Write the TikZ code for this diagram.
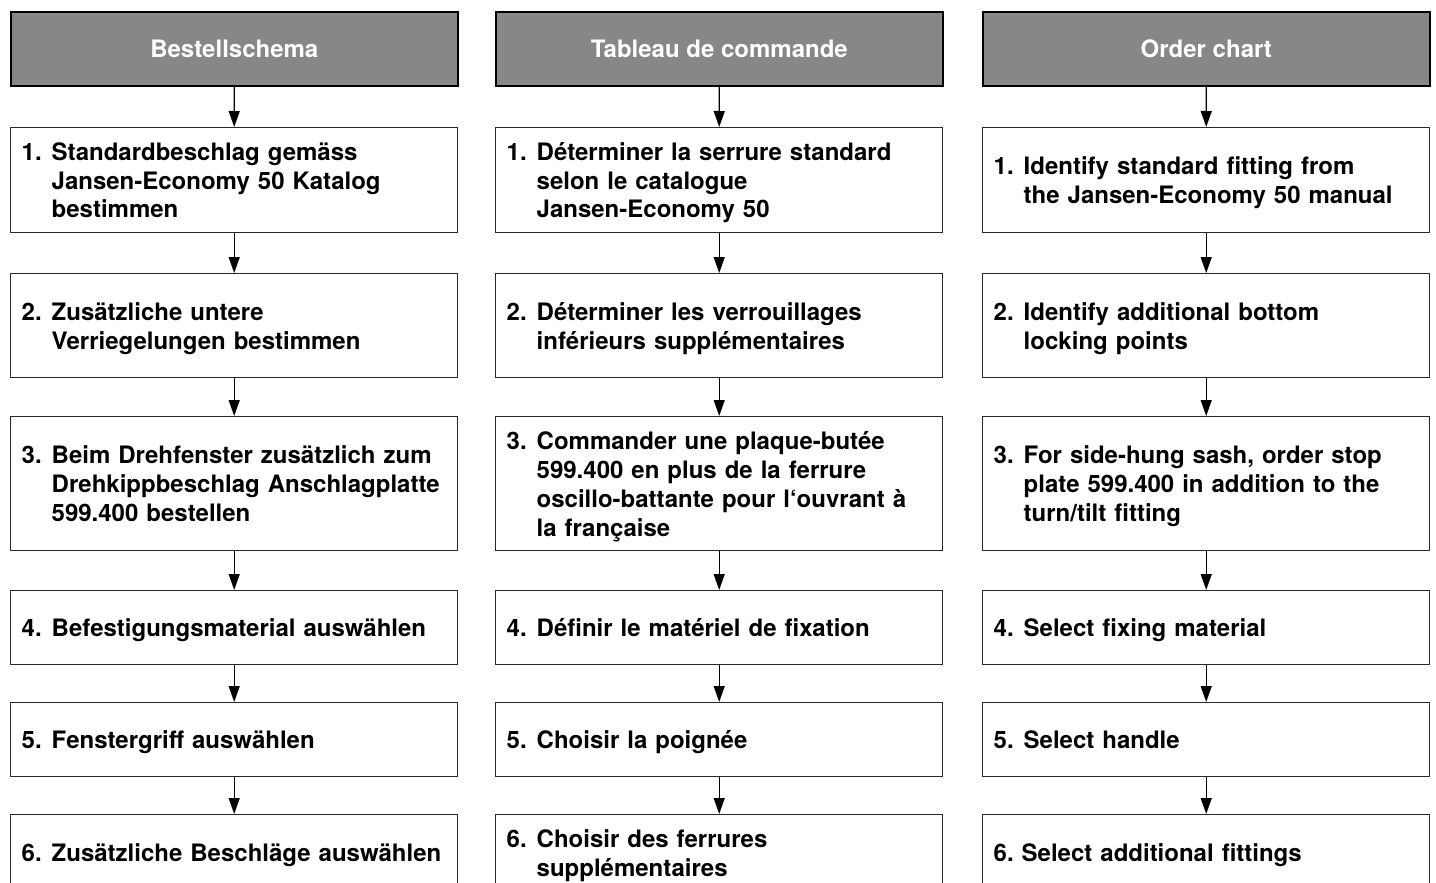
\documentclass[tikz,border=0pt]{standalone}
\usepackage{fontspec}
\setmainfont{TeX Gyre Heros}
\usetikzlibrary{arrows.meta}
\definecolor{headgray}{RGB}{135,135,135}
\definecolor{linegray}{RGB}{40,40,40}
\newcommand\mystrut{\rule[-5.7pt]{0pt}{29pt}}
\newcommand\stepitem[2]{\makebox[30pt][l]{\mystrut#1}\parbox[t]{393pt}{\raggedright\mystrut#2\mystrut}}
\tikzset{
  basefont/.style={font=\fontsize{24}{29}\selectfont\bfseries},
  headbox/.style={basefont, draw=black, line width=1.6pt, fill=headgray, text=white,
    minimum width=447pt, inner sep=0pt, anchor=north west, align=center},
  stepbox/.style={basefont, draw=linegray, line width=1.4pt, fill=white,
    text width=425pt, inner xsep=11pt, inner ysep=0pt, align=left, anchor=north west},
  arr/.style={draw=black, line width=1.3pt, -{Triangle[length=16pt,width=11pt]}}
}
\begin{document}
\begin{tikzpicture}[x=1pt,y=-1pt]
\useasboundingbox (0,0) rectangle (1436,883);
\clip (0,0) rectangle (1436,883);
% Column 1
\node[headbox, minimum height=74pt] (h1) at (10,11) {Bestellschema};
\node[stepbox, minimum height=105pt] (a1) at (10,127) {\stepitem{1.}{Standardbeschlag gemäss\\Jansen-Economy 50 Katalog\\bestimmen}};
\node[stepbox, minimum height=104pt] (a2) at (10,273) {\stepitem{2.}{Zusätzliche untere\\Verriegelungen bestimmen}};
\node[stepbox, minimum height=134pt] (a3) at (10,416) {\stepitem{3.}{Beim Drehfenster zusätzlich zum\\Drehkippbeschlag Anschlagplatte\\599.400 bestellen}};
\node[stepbox, minimum height=74pt] (a4) at (10,590) {\stepitem{4.}{Befestigungsmaterial auswählen}};
\node[stepbox, minimum height=74pt] (a5) at (10,702) {\stepitem{5.}{Fenstergriff auswählen}};
\node[stepbox, minimum height=76pt] (a6) at (10,814) {\stepitem{6.}{Zusätzliche Beschläge auswählen}};
% Column 2
\node[headbox, minimum height=74pt] (h2) at (495,11) {Tableau de commande};
\node[stepbox, minimum height=105pt] (b1) at (495,127) {\stepitem{1.}{Déterminer la serrure standard\\selon le catalogue\\Jansen-Economy 50}};
\node[stepbox, minimum height=104pt] (b2) at (495,273) {\stepitem{2.}{Déterminer les verrouillages\\inférieurs supplémentaires}};
\node[stepbox, minimum height=134pt] (b3) at (495,416) {\stepitem{3.}{Commander une plaque-butée\\599.400 en plus de la ferrure\\oscillo-battante pour l‘ouvrant à\\la française}};
\node[stepbox, minimum height=74pt] (b4) at (495,590) {\stepitem{4.}{Définir le matériel de fixation}};
\node[stepbox, minimum height=74pt] (b5) at (495,702) {\stepitem{5.}{Choisir la poignée}};
\node[stepbox, minimum height=76pt] (b6) at (495,814) {\stepitem{6.}{Choisir des ferrures\\supplémentaires}};
% Column 3
\node[headbox, minimum height=74pt] (h3) at (982,11) {Order chart};
\node[stepbox, minimum height=105pt] (c1) at (982,127) {\stepitem{1.}{Identify standard fitting from\\the Jansen-Economy 50 manual}};
\node[stepbox, minimum height=104pt] (c2) at (982,273) {\stepitem{2.}{Identify additional bottom\\locking points}};
\node[stepbox, minimum height=134pt] (c3) at (982,416) {\stepitem{3.}{For side-hung sash, order stop\\plate 599.400 in addition to the\\turn/tilt fitting}};
\node[stepbox, minimum height=74pt] (c4) at (982,590) {\stepitem{4.}{Select fixing material}};
\node[stepbox, minimum height=74pt] (c5) at (982,702) {\stepitem{5.}{Select handle}};
\node[stepbox, minimum height=76pt] (c6) at (982,814) {\mystrut 6.\ Select additional fittings\mystrut};
% Connectors
\foreach \c/\h in {a/h1,b/h2,c/h3}{
  \draw[arr] (\h.south) -- (\c1.north);
  \draw[arr] (\c1.south) -- (\c2.north);
  \draw[arr] (\c2.south) -- (\c3.north);
  \draw[arr] (\c3.south) -- (\c4.north);
  \draw[arr] (\c4.south) -- (\c5.north);
  \draw[arr] (\c5.south) -- (\c6.north);
}
\end{tikzpicture}
\end{document}
